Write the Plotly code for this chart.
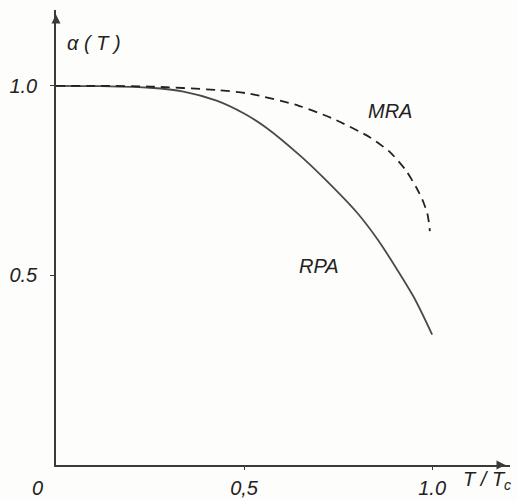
import plotly.graph_objects as go

# Data
rpa_t = [0.0, 0.12, 0.25, 0.339, 0.427, 0.5, 0.56, 0.649, 0.711, 0.80, 0.857, 0.95, 1.0]
rpa_a = [1.0, 0.999, 0.995, 0.985, 0.961, 0.927, 0.889, 0.816, 0.758, 0.666, 0.592, 0.445, 0.344]
mra_t = [0.0, 0.12, 0.25, 0.427, 0.516, 0.644, 0.737, 0.835, 0.888, 0.928, 0.959, 0.976, 0.988, 0.994]
mra_a = [1.0, 1.0, 0.998, 0.989, 0.979, 0.948, 0.913, 0.864, 0.825, 0.78, 0.73, 0.695, 0.660, 0.617]
x_tickvals = [0.5, 1.0]
x_ticktext = ["0,5", "1.0"]
y_tickvals = [0.5, 1.0]
y_ticktext = ["0.5", "1.0"]
x_max = 1.207
y_max = 1.2

ink = "#3a3a3a"
bg = "#fdfdfb"
font = dict(family="Liberation Sans, DejaVu Sans, sans-serif", size=20, color="#222", style="italic")

fig = go.Figure()
fig.add_trace(go.Scatter(x=rpa_t, y=rpa_a, mode="lines",
                         line=dict(color="#4a4a4a", width=1.8, shape="spline", smoothing=0.7),
                         showlegend=False))
fig.add_trace(go.Scatter(x=mra_t, y=mra_a, mode="lines",
                         line=dict(color="#222", width=1.8, dash="9px,6px", shape="spline", smoothing=0.7),
                         showlegend=False))
# arrowheads at the ends of the axes
fig.add_trace(go.Scatter(x=[x_max - 0.012], y=[0], mode="markers", cliponaxis=False, hoverinfo="skip",
                         marker=dict(symbol="arrow-right", size=9, color=ink), showlegend=False))
fig.add_trace(go.Scatter(x=[0], y=[y_max - 0.012], mode="markers", cliponaxis=False, hoverinfo="skip",
                         marker=dict(symbol="arrow-up", size=9, color=ink), showlegend=False))

fig.update_layout(
    width=518, height=501,
    margin=dict(l=56, r=8, t=10, b=36, autoexpand=False),
    paper_bgcolor=bg, plot_bgcolor=bg,
    font=font,
    xaxis=dict(range=[0, x_max], showgrid=False, zeroline=False, showline=True, automargin=False,
               linecolor=ink, linewidth=1.6,
               tickvals=x_tickvals, ticktext=x_ticktext, ticks="outside", ticklen=3,
               tickcolor=ink, tickfont=font, ticklabelstandoff=1),
    yaxis=dict(range=[0, y_max], showgrid=False, zeroline=False, showline=True, automargin=False,
               linecolor=ink, linewidth=1.6,
               tickvals=y_tickvals, ticktext=y_ticktext, ticks="outside", ticklen=4,
               tickcolor=ink, tickfont=font, ticklabelstandoff=9),
)

fig.add_annotation(x=1.147, y=-0.035, xref="x", yref="paper", xanchor="center", yanchor="middle",
                   text="T / T<sub>c</sub>", showarrow=False, font=font)
fig.add_annotation(x=0.1, y=1.113, xref="x", yref="y", text="α ( T )", showarrow=False, font=font)
fig.add_annotation(x=-0.04, y=-0.05, xref="paper", yref="paper", xanchor="center", yanchor="middle",
                   text="0", showarrow=False, font=font)
fig.add_annotation(x=0.888, y=0.934, xref="x", yref="y", text="MRA", showarrow=False, font=font)
fig.add_annotation(x=0.70, y=0.524, xref="x", yref="y", text="RPA", showarrow=False, font=font)

# remove the default 8px page margin so the figure sits at the window origin
fig.write_html("out.html", config={"displayModeBar": False},
               post_script="document.body.style.margin='0';")
